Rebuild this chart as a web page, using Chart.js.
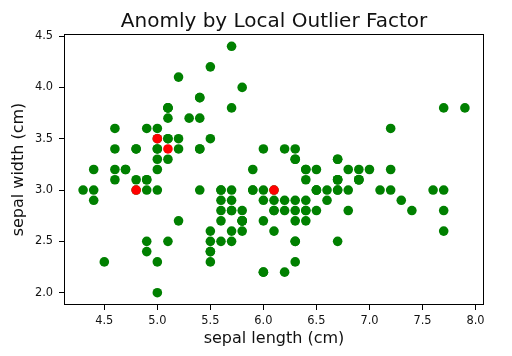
<!DOCTYPE html>
<html>
<head>
<meta charset="utf-8">
<script src="https://cdn.jsdelivr.net/npm/chart.js@4/dist/chart.umd.min.js"></script>
<style>
html,body{margin:0;padding:0;background:#fff;}
#wrap{width:512px;height:356px;}
</style>
</head>
<body>
<div id="wrap"><canvas id="c" width="512" height="356"></canvas></div>
<script>
const sepalLength = [5.1,4.9,4.7,4.6,5.0,5.4,4.6,5.0,4.4,4.9,5.4,4.8,4.8,4.3,5.8,5.7,5.4,5.1,5.7,5.1,5.4,5.1,4.6,5.1,4.8,5.0,5.0,5.2,5.2,4.7,4.8,5.4,5.2,5.5,4.9,5.0,5.5,4.9,4.4,5.1,5.0,4.5,4.4,5.0,5.1,4.8,5.1,4.6,5.3,5.0,
7.0,6.4,6.9,5.5,6.5,5.7,6.3,4.9,6.6,5.2,5.0,5.9,6.0,6.1,5.6,6.7,5.6,5.8,6.2,5.6,5.9,6.1,6.3,6.1,6.4,6.6,6.8,6.7,6.0,5.7,5.5,5.5,5.8,6.0,5.4,6.0,6.7,6.3,5.6,5.5,5.5,6.1,5.8,5.0,5.6,5.7,5.7,6.2,5.1,5.7,
6.3,5.8,7.1,6.3,6.5,7.6,4.9,7.3,6.7,7.2,6.5,6.4,6.8,5.7,5.8,6.4,6.5,7.7,7.7,6.0,6.9,5.6,7.7,6.3,6.7,7.2,6.2,6.1,6.4,7.2,7.4,7.9,6.4,6.3,6.1,7.7,6.3,6.4,6.0,6.9,6.7,6.9,5.8,6.8,6.7,6.7,6.3,6.5,6.2,5.9];
const sepalWidth = [3.5,3.0,3.2,3.1,3.6,3.9,3.4,3.4,2.9,3.1,3.7,3.4,3.0,3.0,4.0,4.4,3.9,3.5,3.8,3.8,3.4,3.7,3.6,3.3,3.4,3.0,3.4,3.5,3.4,3.2,3.1,3.4,4.1,4.2,3.1,3.2,3.5,3.6,3.0,3.4,3.5,2.3,3.2,3.5,3.8,3.0,3.8,3.2,3.7,3.3,
3.2,3.2,3.1,2.3,2.8,2.8,3.3,2.4,2.9,2.7,2.0,3.0,2.2,2.9,2.9,3.1,3.0,2.7,2.2,2.5,3.2,2.8,2.5,2.8,2.9,3.0,2.8,3.0,2.9,2.6,2.4,2.4,2.7,2.7,3.0,3.4,3.1,2.3,3.0,2.5,2.6,3.0,2.6,2.3,2.7,3.0,2.9,2.9,2.5,2.8,
3.3,2.7,3.0,2.9,3.0,3.0,2.5,2.9,2.5,3.6,3.2,2.7,3.0,2.5,2.8,3.2,3.0,3.8,2.6,2.2,3.2,2.8,2.8,2.7,3.3,3.2,2.8,3.0,2.8,3.0,2.8,3.8,2.8,2.8,2.6,3.0,3.4,3.1,3.0,3.1,3.1,3.1,2.7,3.2,3.3,3.0,2.5,3.0,3.4,3.0];
const outlierIdx = [12, 39, 40, 127];
const xTicks = [4.5,5.0,5.5,6.0,6.5,7.0,7.5,8.0];
const yTicks = [2.0,2.5,3.0,3.5,4.0,4.5];
const chartTitle = 'Anomly by Local Outlier Factor';

const inliers = [], outliers = [];
sepalLength.forEach((x,i)=>{
  (outlierIdx.includes(i) ? outliers : inliers).push({x:x, y:sepalWidth[i]});
});

const FONT = 'DejaVu Sans';
const frame = {
  id:'frame',
  afterDatasetsDraw(chart){
    const a = chart.chartArea, ctx = chart.ctx;
    ctx.save();
    ctx.strokeStyle = '#000';
    ctx.lineWidth = 1;
    ctx.strokeRect(Math.round(a.left)+0.5, Math.round(a.top)+0.5, Math.round(a.right-a.left)-1, Math.round(a.bottom-a.top)-1);
    ctx.fillStyle = '#111';
    ctx.font = '20px "' + FONT + '"';
    ctx.textAlign = 'center';
    ctx.textBaseline = 'alphabetic';
    ctx.fillText(chartTitle, (a.left + a.right)/2, 27);
    ctx.restore();
  }
};

new Chart(document.getElementById('c'), {
  type:'scatter',
  data:{datasets:[
    {data:inliers, backgroundColor:'#008000', borderWidth:0, pointRadius:4.8, pointHoverRadius:4.8, order:2},
    {data:outliers, backgroundColor:'#ff0000', borderWidth:0, pointRadius:4.8, pointHoverRadius:4.8, order:1}
  ]},
  options:{
    responsive:false, animation:false, devicePixelRatio:1,
    layout:{padding:{left:0, right:28, top:34, bottom:0}},
    plugins:{
      legend:{display:false}, tooltip:{enabled:false}, title:{display:false}
    },
    scales:{
      x:{type:'linear', min:4.12, max:8.08,
        afterBuildTicks(s){ s.ticks = xTicks.map(v=>({value:v})); },
        afterFit(s){ s.height = 51; },
        grid:{drawOnChartArea:false, drawTicks:true, tickLength:5, color:'#000'},
        border:{display:false},
        ticks:{color:'#111', padding:4, font:{family:FONT, size:11.4}, maxRotation:0, autoSkip:false,
          callback:(v)=>Number(v).toFixed(1)},
        title:{display:true, text:'sepal length (cm)', color:'#111', font:{family:FONT, size:16, lineHeight:1.2}, padding:{top:0,bottom:8}}
      },
      y:{type:'linear', min:1.88, max:4.52,
        afterBuildTicks(s){ s.ticks = yTicks.map(v=>({value:v})); },
        afterFit(s){ s.width = 64; },
        grid:{drawOnChartArea:false, drawTicks:true, tickLength:5, color:'#000'},
        border:{display:false},
        ticks:{color:'#111', padding:6, font:{family:FONT, size:11.4}, autoSkip:false,
          callback:(v)=>Number(v).toFixed(1)},
        title:{display:true, text:'sepal width (cm)', color:'#111', font:{family:FONT, size:16, lineHeight:1.2}, padding:{top:9,bottom:0}}
      }
    }
  },
  plugins:[frame]
});
</script>
</body>
</html>
